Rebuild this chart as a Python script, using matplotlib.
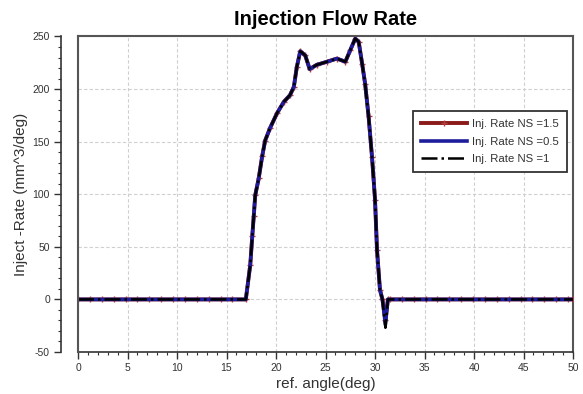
import matplotlib
matplotlib.use("Agg")
import matplotlib.pyplot as plt
from matplotlib.ticker import MultipleLocator

plt.rcParams['font.family'] = ['Liberation Sans', 'DejaVu Sans']
plt.rcParams['axes.unicode_minus'] = False

# ---- data ----
angle = [0.0, 1.2, 2.4, 3.6, 4.8, 6.0, 7.2, 8.4, 9.6, 10.8, 12.0, 13.2, 14.4, 15.6, 16.95,
         17.4, 17.6, 17.75, 17.9, 18.25, 18.6, 18.9, 19.4, 20.1, 20.8, 21.4, 21.8, 22.1,
         22.45, 22.95, 23.4, 24.1, 25.15, 26.15, 27.0, 27.5, 28.0, 28.35, 28.7, 29.0,
         29.35, 29.7, 30.0, 30.2, 30.5, 30.75, 31.05, 31.3,
         31.5, 32.7, 33.9, 35.1, 36.3, 37.5, 38.7, 39.9, 41.1, 42.3, 43.5, 44.7, 45.9,
         47.1, 48.3, 49.5, 50.0]
rate_ns15 = [0, 0, 0, 0, 0, 0, 0, 0, 0, 0, 0, 0, 0, 0, 0,
             33, 60, 79, 99, 115, 136, 151, 163, 177, 188, 194, 202, 221,
             236, 232, 219, 223, 226, 229, 226, 237, 248, 245, 224, 205,
             174, 135, 95, 47, 9, 0, -20, 0,
             0, 0, 0, 0, 0, 0, 0, 0, 0, 0, 0, 0, 0,
             0, 0, 0, 0]
rate_ns05 = [0, 0, 0, 0, 0, 0, 0, 0, 0, 0, 0, 0, 0, 0, 0,
             33, 60, 79, 99, 115, 136, 151, 163, 177, 188, 194, 202, 221,
             236, 232, 219, 223, 226, 229, 226, 237, 248, 245, 224, 205,
             174, 135, 95, 47, 9, 0, -24, 0,
             0, 0, 0, 0, 0, 0, 0, 0, 0, 0, 0, 0, 0,
             0, 0, 0, 0]
rate_ns1 = [0, 0, 0, 0, 0, 0, 0, 0, 0, 0, 0, 0, 0, 0, 0,
            33, 60, 79, 99, 115, 136, 151, 163, 177, 188, 194, 202, 221,
            236, 232, 219, 223, 226, 229, 226, 237, 248, 245, 224, 205,
            174, 135, 95, 47, 9, 0, -27, 0,
            0, 0, 0, 0, 0, 0, 0, 0, 0, 0, 0, 0, 0,
            0, 0, 0, 0]
labels = ["Inj. Rate NS =1.5", "Inj. Rate NS =0.5", "Inj. Rate NS =1"]

# ---- figure ----
fig = plt.figure(figsize=(5.83, 3.94), dpi=100)
ax = fig.add_axes([0.1338, 0.1066, 0.8491, 0.8008])

ax.plot(angle, rate_ns15, color='#8b1a1a', lw=2.8, marker='+', ms=5, mew=1.0,
        mec='#b04040', label=labels[0], zorder=3)
ax.plot(angle, rate_ns05, color='#1c1c9c', lw=2.6, label=labels[1], zorder=4)
ax.plot(angle, rate_ns1, color='black', lw=1.8, ls='-.', label=labels[2], zorder=5)

ax.set_xlim(0, 50)
ax.set_ylim(-50, 250)
ax.xaxis.set_major_locator(MultipleLocator(5))
ax.xaxis.set_minor_locator(MultipleLocator(1))
ax.yaxis.set_major_locator(MultipleLocator(50))
ax.yaxis.set_minor_locator(MultipleLocator(10))

ax.grid(True, which='major', color='#cfcfcf', ls=(0, (3, 2)), lw=0.8)

# spines: left axis offset outward, frame kept around plot
ax.spines['left'].set_position(('outward', 12.2))
for s in ['left', 'bottom']:
    ax.spines[s].set_color('#333333')
    ax.spines[s].set_linewidth(1.2)
for s in ['top', 'right']:
    ax.spines[s].set_color('#555555')
    ax.spines[s].set_linewidth(1.5)
ax.axvline(0, color='#555555', lw=1.5, zorder=6, clip_on=False)

ax.tick_params(axis='both', which='major', direction='out', length=5, width=1.0,
               color='#333333', labelsize=7.5, labelcolor='#333333', pad=3)
ax.tick_params(axis='both', which='minor', direction='out', length=2.5, width=0.8,
               color='#333333')

ax.set_title("Injection Flow Rate", fontsize=14.5, fontweight='bold', pad=8)
ax.set_xlabel("ref. angle(deg)", fontsize=11, color='#333333', labelpad=3)
ax.set_ylabel("Inject -Rate (mm^3/deg)", fontsize=11, color='#333333', labelpad=3)

leg = ax.legend(loc='upper left', bbox_to_anchor=(0.677, 0.764), borderaxespad=0,
                fontsize=8.2, handlelength=4.0, labelspacing=0.68, handletextpad=0.5,
                borderpad=0.7, fancybox=False, framealpha=1, edgecolor='#333333')
leg.get_frame().set_linewidth(1.3)
for t in leg.get_texts():
    t.set_color('#333333')

fig.savefig("out.png", dpi=100)
